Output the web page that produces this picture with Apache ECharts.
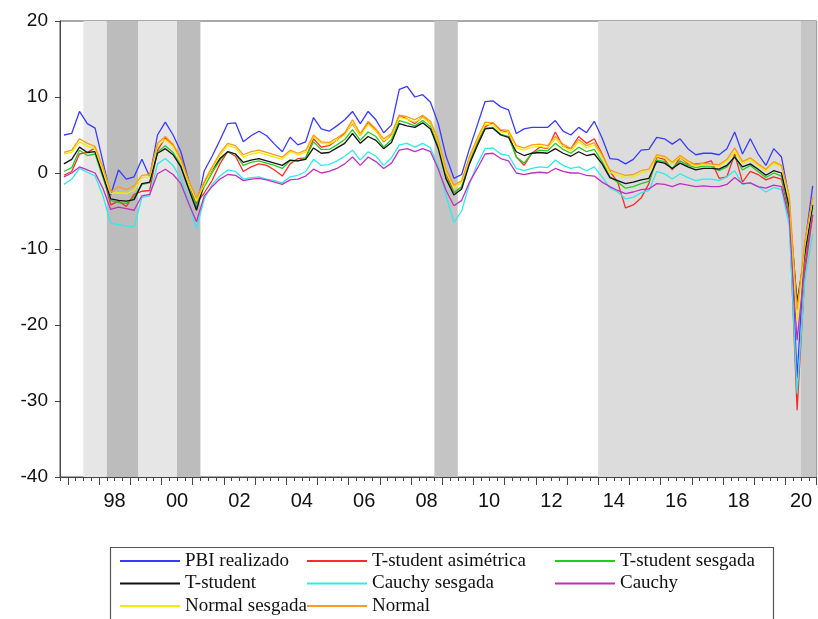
<!DOCTYPE html>
<html>
<head>
<meta charset="utf-8">
<script src="https://cdn.jsdelivr.net/npm/echarts@6/dist/echarts.min.js"></script>
<style>
html,body{margin:0;padding:0;background:#fff;}
#chart{width:818px;height:619px;}
</style>
</head>
<body>
<div id="chart"></div>
<script>
// ---- categories (quarters 1996Q4 .. 2020Q4) ----
const firstYear = 1996, firstQuarter = 4, lastYear = 2020, lastQuarter = 4;
const quarters = [];
for (let y = firstYear; y <= lastYear; y++) {
  for (let q = 1; q <= 4; q++) {
    if (y === firstYear && q < firstQuarter) continue;
    if (y === lastYear && q > lastQuarter) continue;
    quarters.push(y + 'Q' + q);
  }
}

// ---- series values (% yoy) ----
const pbiRealizado = [5.0,5.2,8.1,6.5,5.9, 1.5,-2.9,0.4,-0.8, -0.5,1.8,-0.5,5.0, 6.7,5.0,2.8,-1.0, -4.5,0.3,2.2,4.3, 6.5,6.6,4.1,4.9, 5.5,4.9,3.8,2.8, 4.7,3.7,4.1,7.3, 5.8,5.5,6.2,7.0, 8.1,6.5,8.1,7.0, 5.3,6.3,11.0,11.4, 10.0,10.3,9.3,6.5, 2.2,-0.7,-0.2,3.2, 6.3,9.4,9.5,8.7, 8.3,5.2,5.8,6.0, 6.0,6.0,6.9,5.5, 5.0,6.0,5.3,6.8, 4.6,1.9,1.8,1.2, 1.8,3.0,3.1,4.7, 4.5,3.8,4.5,3.2, 2.4,2.6,2.6,2.4, 3.2,5.4,2.5,4.5, 2.5,1.0,3.2,2.1, -3.4,-27.0,-9.4,-1.7];
const tStudentAsim = [-0.3,0.2,2.5,2.7,3.3, -0.2,-4.2,-3.7,-4.4, -2.8,-2.4,-2.3,3.0, 4.6,3.6,1.9,-1.2, -4.0,-2.6,-1.0,1.2, 2.8,2.2,0.2,0.8, 1.2,1.0,0.4,-0.4, 1.2,1.9,2.0,4.5, 3.4,3.6,4.3,5.2, 6.5,4.9,6.7,5.6, 4.1,5.0,7.6,7.1, 6.5,7.4,6.5,4.0, 0.0,-2.6,-1.8,1.6, 4.0,6.1,6.6,5.6, 5.3,2.1,1.0,2.6, 3.4,3.2,5.4,3.5, 3.2,4.8,3.9,4.5, 2.5,0.2,-1.2,-4.6, -4.2,-3.3,-1.4,2.1, 1.8,0.4,2.1,1.2, 1.2,1.3,1.6,-0.7, -0.5,2.5,-1.2,0.2, -0.2,-0.9,-0.5,-0.8, -5.5,-31.2,-13.0,-5.5];
const tStudentSesg = [0.2,0.7,3.0,2.3,2.5, -0.6,-3.6,-3.9,-4.0, -3.2,-1.5,-1.3,2.8, 3.6,2.7,0.9,-2.0, -4.3,-1.8,0.0,1.7, 2.8,2.5,1.0,1.4, 1.6,1.3,1.0,0.6, 1.6,1.6,2.0,4.1, 3.1,3.1,3.7,4.4, 5.7,4.3,5.4,4.8, 3.4,4.4,6.9,6.6, 6.2,6.9,6.1,3.5, -0.6,-2.6,-1.8,1.4, 3.8,5.9,6.0,5.1, 4.8,2.1,1.3,2.6, 3.0,2.9,3.9,3.1, 2.6,3.4,2.8,3.1, 1.5,-0.5,-1.2,-2.0, -1.8,-1.4,-1.1,1.7, 1.5,0.6,1.6,1.0, 0.7,0.9,0.9,0.3, 0.8,2.2,0.4,1.0, 0.2,-0.6,0.0,-0.4, -5.0,-17.5,-11.0,-4.5];
const tStudent = [1.2,1.8,3.4,2.7,2.8, -0.3,-3.4,-3.6,-3.7, -3.5,-1.4,-1.2,2.6, 3.2,2.4,0.8,-2.1, -4.9,-1.3,0.4,1.9, 2.8,2.5,1.4,1.7, 1.9,1.6,1.3,1.0, 1.7,1.6,1.8,3.3, 2.6,2.7,3.3,3.9, 5.2,3.9,4.8,4.3, 3.2,4.0,6.5,6.2, 6.0,6.6,5.8,3.2, -0.8,-2.9,-2.1,1.2, 3.6,5.8,5.9,5.0, 4.7,2.8,2.3,2.6, 2.7,2.6,3.2,2.6, 2.2,2.8,2.3,2.5, 1.2,-0.6,-1.0,-1.4, -1.2,-0.9,-0.7,1.5, 1.3,0.6,1.3,0.8, 0.4,0.6,0.6,0.5, 1.0,2.1,0.8,1.2, 0.5,-0.3,0.3,0.0, -4.5,-17.0,-10.5,-4.2];
const cauchySesg = [-1.5,-0.8,0.6,0.1,-0.4, -3.0,-6.6,-6.8,-7.0, -7.1,-3.2,-3.0,1.2, 1.9,1.0,-0.8,-3.8, -7.3,-3.4,-1.5,-0.4, 0.4,0.2,-0.8,-0.6, -0.5,-0.8,-1.0,-1.3, -0.5,-0.3,0.2,1.8, 1.0,1.1,1.6,2.2, 3.0,1.7,2.8,2.2, 1.0,2.0,3.7,3.9, 3.4,3.9,3.3,0.8, -3.0,-6.5,-5.0,-1.4, 1.2,3.2,3.3,2.5, 2.3,0.6,0.3,0.6, 0.8,0.7,1.7,1.0, 0.6,0.8,0.3,0.8, -0.5,-2.0,-2.5,-3.4, -3.2,-2.6,-2.3,0.2, -0.1,-0.8,-0.1,-0.6, -1.0,-0.8,-0.8,-1.0, -0.5,0.3,-1.5,-1.3, -1.8,-2.5,-1.9,-2.2, -7.0,-29.0,-14.0,-8.0];
const cauchy = [-0.5,0.0,0.8,0.4,0.0, -2.0,-4.8,-4.5,-4.7, -4.9,-3.0,-2.8,-0.1, 0.5,-0.2,-1.4,-4.0, -6.4,-3.0,-1.8,-0.8, -0.2,-0.3,-1.0,-0.8, -0.7,-0.9,-1.2,-1.5, -0.9,-0.8,-0.4,0.5, 0.0,0.2,0.6,1.2, 2.1,1.0,2.1,1.5, 0.6,1.3,3.0,3.2, 2.8,3.2,2.8,0.5, -2.3,-4.3,-3.6,-1.2, 0.6,2.5,2.6,1.9, 1.6,0.0,-0.2,0.0, 0.1,0.0,0.6,0.2, 0.0,0.0,-0.3,-0.4, -1.2,-1.8,-2.3,-2.7, -2.5,-2.2,-2.1,-1.4, -1.5,-1.8,-1.4,-1.6, -1.8,-1.7,-1.8,-1.8, -1.5,-0.6,-1.4,-1.3, -1.8,-2.0,-1.6,-1.8, -6.0,-22.0,-12.0,-5.5];
const normalSesg = [2.5,2.7,4.1,3.5,3.2, 0.3,-2.7,-2.6,-2.7, -2.3,-0.6,-0.5,3.6, 4.4,3.5,1.5,-1.3, -3.7,-1.5,0.5,2.3, 3.6,3.3,2.1,2.5, 2.7,2.4,2.1,1.8, 2.8,2.4,2.7,4.8, 3.9,3.8,4.3,5.0, 6.6,4.9,6.4,5.5, 4.2,4.9,7.3,7.1, 6.7,7.3,6.5,4.0, 0.1,-2.0,-1.2,1.9, 4.3,6.4,6.3,5.4, 5.3,3.3,3.0,3.4, 3.5,3.3,4.5,3.5, 2.9,4.1,3.3,3.7, 2.1,0.1,-0.3,-0.6, -0.5,0.0,0.3,2.2, 2.0,1.2,2.1,1.4, 0.9,1.1,1.0,0.9, 1.6,2.8,1.3,1.8, 1.0,0.3,1.3,0.8, -3.5,-19.5,-9.5,-3.5];
const normal = [2.7,3.0,4.5,3.9,3.5, 0.8,-2.5,-1.8,-2.2, -1.7,-0.3,-0.2,3.9, 4.8,3.8,1.8,-1.0, -3.3,-1.1,0.8,2.6, 3.9,3.6,2.4,2.8, 3.0,2.7,2.4,2.1, 3.0,2.6,3.0,5.0, 4.1,4.0,4.6,5.3, 7.0,5.2,6.8,5.8, 4.5,5.2,7.6,7.4, 7.0,7.6,6.8,4.3, 0.5,-1.6,-1.0,2.2, 4.6,6.7,6.6,5.7, 5.6,3.6,3.3,3.7, 3.8,3.6,4.8,3.8, 3.2,4.4,3.6,4.0, 2.4,0.4,0.0,-0.3, -0.2,0.3,0.5,2.4, 2.2,1.4,2.3,1.6, 1.1,1.3,1.2,1.1, 1.8,3.3,1.5,2.0, 1.2,0.5,1.5,1.0, -3.0,-18.0,-9.0,-3.2];

// ---- series names, colours (legend order) ----
const seriesNames = ['PBI realizado','T-student asimétrica','T-student sesgada','T-student','Cauchy sesgada','Cauchy','Normal sesgada','Normal'];
const seriesValues = [pbiRealizado,tStudentAsim,tStudentSesg,tStudent,cauchySesg,cauchy,normalSesg,normal];
const seriesColors = ['#3a3aff','#ff2a2a','#22cc22','#111111','#33e8e8','#c030c0','#eeee00','#ff9a1a'];

// ---- shaded periods [from, to, shade] ----
const shadeFrom  = ['1997Q3','1998Q2','1999Q2','2000Q3','2008Q4','2014Q1','2020Q3'];
const shadeTo    = ['1998Q1','1999Q1','2000Q2','2001Q1','2009Q2','2020Q2','2020Q4'];
const shadeColor = ['#e6e6e6','#bcbcbc','#e6e6e6','#bcbcbc','#c4c4c4','#dcdcdc','#c6c6c6'];

// ---- axis tick labels ----
const yTicks = [-40,-30,-20,-10,0,10,20];
const xLabelYears = [1998,2000,2002,2004,2006,2008,2010,2012,2014,2016,2018,2020];
const xTickLabels = ['98','00','02','04','06','08','10','12','14','16','18','20'];

function qStart(label){ const y = +label.slice(0,4), q = +label.slice(5); return y + (q-1)/4; }
function qCenter(label){ return qStart(label) + 0.125; }
function qEnd(label){ return qStart(label) + 0.25; }

const xMin = qStart(quarters[0]), xMax = qEnd(quarters[quarters.length-1]);
const quarterBounds = quarters.map(qStart).concat([xMax]);
const yearStarts = [];
for (let y = Math.ceil(xMin); y <= xMax; y++) yearStarts.push(y);
const labelPos = xLabelYears.map(y => y + 0.5);

const chart = echarts.init(document.getElementById('chart'), null, {renderer:'canvas'});

const series = seriesNames.map((name, k) => ({
  name, type:'line', xAxisIndex:0, yAxisIndex:0,
  data: seriesValues[k].map((v,i) => [qCenter(quarters[i]), v]),
  symbol:'none', showSymbol:false,
  lineStyle:{color:seriesColors[k], width:1.3},
  itemStyle:{color:seriesColors[k]},
  z: 3, animation:false
}));
series.unshift({
  name:'__shade', type:'line', data:[], z:1, silent:true,
  markArea:{
    silent:true,
    data: shadeFrom.map((f,i) => [
      {xAxis: qStart(f), itemStyle:{color:shadeColor[i], opacity:1}},
      {xAxis: qEnd(shadeTo[i])}
    ])
  }
});

const legendFont = {fontFamily:'"Liberation Serif","Times New Roman",serif', fontSize:19, color:'#111', lineHeight:20};
function legendCol(left, names){
  return {
    orient:'vertical', left, top:551, itemWidth:60, itemHeight:2, itemGap:2.5,
    icon:'rect', data: names, textStyle: legendFont, selectedMode:false, padding:0
  };
}

chart.setOption({
  animation:false,
  backgroundColor:'#ffffff',
  grid:{left:60, top:21, width:756.6, height:456, show:true, borderColor:'#555', borderWidth:1, backgroundColor:'transparent'},
  xAxis:[
    {type:'value', min:xMin, max:xMax, position:'bottom',
     axisLine:{show:true, onZero:false, lineStyle:{color:'#444', width:1}},
     axisTick:{show:true, inside:false, length:4, customValues:quarterBounds, lineStyle:{color:'#444'}},
     axisLabel:{show:true, customValues:labelPos, margin:14,
       formatter: v => xTickLabels[xLabelYears.indexOf(Math.round(v-0.5))],
       fontFamily:'"Liberation Sans",Arial,sans-serif', fontSize:20, color:'#111'},
     splitLine:{show:false}},
    {type:'value', min:xMin, max:xMax, position:'bottom', gridIndex:0,
     axisLine:{show:false, onZero:false},
     axisTick:{show:true, inside:false, length:8, customValues:yearStarts, lineStyle:{color:'#444'}},
     axisLabel:{show:false}, splitLine:{show:false}}
  ],
  yAxis:{type:'value', min:-40, max:20, interval:10,
    axisLine:{show:true, lineStyle:{color:'#444'}},
    axisTick:{show:true, inside:false, length:5, lineStyle:{color:'#444'}},
    axisLabel:{margin:12, fontFamily:'"Liberation Sans",Arial,sans-serif', fontSize:19, color:'#111'},
    splitLine:{show:false}},
  legend:[
    legendCol(120, [seriesNames[0], seriesNames[3], seriesNames[6]]),
    legendCol(307, [seriesNames[1], seriesNames[4], seriesNames[7]]),
    legendCol(555, [seriesNames[2], seriesNames[5]])
  ],
  graphic:[{type:'rect', left:108, top:545, shape:{width:663, height:90},
    style:{fill:'none', stroke:'#555', lineWidth:1.2}, z:10}],
  series
});
</script>
</body>
</html>
